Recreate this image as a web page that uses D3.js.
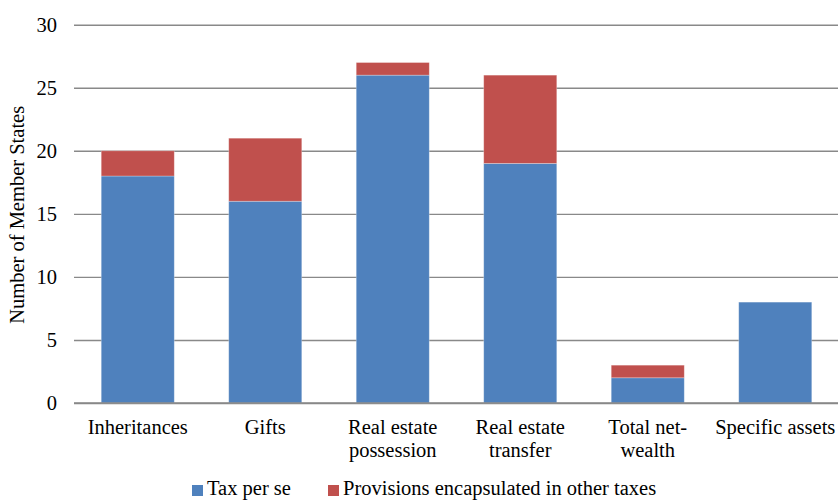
<!DOCTYPE html>
<html>
<head>
<meta charset="utf-8">
<script src="https://cdn.jsdelivr.net/npm/d3@7"></script>
<style>
  html, body { margin: 0; padding: 0; background: #fff; }
  svg { display: block; }
</style>
</head>
<body>
<svg id="chart" width="838" height="500"></svg>
<script>
// Categories of taxation and number of Member States applying each
const categories = ["Inheritances", "Gifts", "Real estate possession", "Real estate transfer", "Total net-wealth", "Specific assets"];
const categoryLines = [["Inheritances"], ["Gifts"], ["Real estate", "possession"], ["Real estate", "transfer"], ["Total net-", "wealth"], ["Specific assets"]];
const taxPerSe = [18, 16, 26, 19, 2, 8];
const provisionsOther = [2, 5, 1, 7, 1, 0];
const seriesNames = ["Tax per se", "Provisions encapsulated in other taxes"];
const seriesColors = ["#4F81BD", "#C0504D"];
const yTicks = [0, 5, 10, 15, 20, 25, 30];

const FONT = "'Liberation Serif', 'Times New Roman', serif";
const FS = "20.5px";
const svg = d3.select("#chart");
const plotLeft = 74, plotRight = 839, plotTop = 24.7, plotBottom = 403;

const x = d3.scaleBand().domain(categories).range([plotLeft, plotRight])
  .paddingInner(0.427).paddingOuter(0.2135);
const y = d3.scaleLinear().domain([0, 30]).range([plotBottom, plotTop]);

// Horizontal gridlines with tick labels
const yAxis = d3.axisLeft(y).tickValues(yTicks).tickSize(-(plotRight - plotLeft)).tickPadding(17);
const gy = svg.append("g").attr("transform", `translate(${plotLeft},0)`).call(yAxis);
gy.attr("font-family", null).attr("font-size", null);
gy.select(".domain").remove();
gy.selectAll(".tick line").attr("stroke", "#898989").attr("stroke-width", 1.4);
gy.selectAll(".tick text").attr("fill", "#000").style("font-size", FS).style("font-family", FONT);

// Stacked bars
const rows = categories.map((c, i) => ({ cat: c, values: [taxPerSe[i], provisionsOther[i]] }));
const stack = d3.stack().keys([0, 1]).value((d, k) => d.values[k]);
const layers = stack(rows);

svg.append("g").selectAll("g").data(layers).join("g")
  .attr("fill", (d, i) => seriesColors[i])
  .selectAll("rect").data(d => d.map((s, j) => ({ s, cat: categories[j] })).filter(e => e.s[1] > e.s[0]))
  .join("rect")
  .attr("x", d => x(d.cat))
  .attr("width", x.bandwidth())
  .attr("y", d => y(d.s[1]))
  .attr("height", d => y(d.s[0]) - y(d.s[1]))
  .attr("stroke", "rgba(255,255,255,0.35)")
  .attr("stroke-width", 0.8);

// Baseline
svg.append("line").attr("x1", plotLeft).attr("x2", plotRight).attr("y1", y(0)).attr("y2", y(0))
  .attr("stroke", "#898989").attr("stroke-width", 1.4);

// Category labels (wrapped over two lines where needed)
const catG = svg.append("g").attr("text-anchor", "middle").attr("fill", "#000");
categories.forEach((c, i) => {
  const cx = x(c) + x.bandwidth() / 2;
  const t = catG.append("text").attr("x", cx).attr("y", 434)
    .style("font-size", FS).style("font-family", FONT);
  categoryLines[i].forEach((line, k) => {
    t.append("tspan").attr("x", cx).attr("dy", k === 0 ? 0 : 23).text(line);
  });
});

// Y axis title
svg.append("text")
  .attr("transform", `translate(24,${(plotTop + plotBottom) / 2 + 1}) rotate(-90)`)
  .attr("text-anchor", "middle").attr("fill", "#000")
  .style("font-size", FS).style("font-family", FONT)
  .text("Number of Member States");

// Legend
const legendX = [192, 328];
legendX.forEach((lx, i) => {
  svg.append("rect").attr("x", lx).attr("y", 485).attr("width", 11).attr("height", 11)
    .attr("fill", seriesColors[i]);
  svg.append("text").attr("x", lx + 15).attr("y", 495).attr("fill", "#000")
    .style("font-size", FS).style("font-family", FONT)
    .text(seriesNames[i]);
});
</script>
</body>
</html>
